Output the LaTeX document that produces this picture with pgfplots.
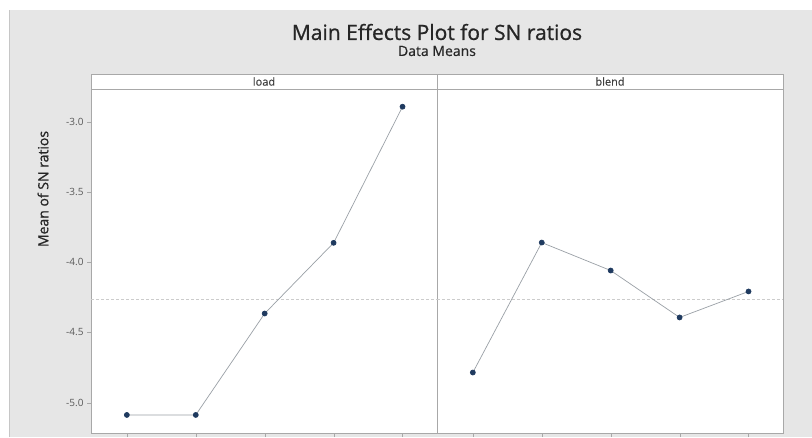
\documentclass[border=0pt]{standalone}
\usepackage{fontspec}
\setmainfont{Open Sans}
\newfontfamily\semib[FakeBold=0.9]{Open Sans}
\newfontfamily\semil[FakeBold=0.4]{Open Sans}
\usepackage{pgfplots}
\pgfplotsset{compat=1.18}
\definecolor{bggray}{HTML}{E6E6E6}
\definecolor{framegray}{HTML}{A8A8A8}
\definecolor{linegray}{HTML}{9AA0A6}
\definecolor{mk}{HTML}{1F3A5F}
\pgfplotsset{
  panel/.style={
    scale only axis, width=346pt, height=344pt,
    xmin=0.48, xmax=5.5, ymin=-5.2155, ymax=-2.767,
    axis background/.style={fill=white},
    axis line style={framegray},
    xtick={1,2,3,4,5}, xticklabels={}, xtick pos=bottom,
    tick align=outside, major tick length=4pt,
    tick style={framegray},
    clip=false,
  },
  series/.style={color=linegray, line width=0.7pt, mark=*, mark size=2.5pt,
    mark options={draw=mk, fill=mk}},
  refline/.style={color=gray!40, densely dashed, line width=0.5pt},
}
\begin{document}
\begin{tikzpicture}[x=1pt,y=1pt]
\useasboundingbox (0pt,0pt) rectangle (812pt,437pt);
\fill[white] (0pt,0pt) rectangle (812pt,437pt);
\fill[bggray] (9pt,0pt) rectangle (812pt,427pt);
\draw[gray!45, line width=1pt] (9pt,0pt) -- (9pt,427pt);
\node[font=\semib\fontsize{21}{24}\selectfont, text=black!85] at (437pt,405pt) {Main Effects Plot for SN ratios};
\node[font=\semil\fontsize{14}{16}\selectfont, text=black!85] at (437pt,386pt) {Data Means};
\begin{axis}[panel, at={(91pt,4pt)}, anchor=south west,
    ytick={-5,-4.5,-4,-3.5,-3}, ytick pos=left,
    /pgf/number format/assume math mode=true,
    yticklabel style={font=\fontsize{10}{11}\selectfont, text=black!65,
      /pgf/number format/fixed, /pgf/number format/fixed zerofill, /pgf/number format/precision=1},
  ]
  \addplot[refline] coordinates {(0.48,-4.26) (5.5,-4.26)};
  \addplot[series] coordinates {(1,-5.087) (2,-5.087) (3,-4.365) (4,-3.862) (5,-2.893)};
\end{axis}
\begin{axis}[panel, at={(437pt,4pt)}, anchor=south west, ytick=\empty]
  \addplot[refline] coordinates {(0.48,-4.26) (5.5,-4.26)};
  \addplot[series] coordinates {(1,-4.785) (2,-3.860) (3,-4.059) (4,-4.393) (5,-4.208)};
\end{axis}
\draw[framegray, fill=white] (91pt,348pt) rectangle (437pt,363pt);
\draw[framegray, fill=white] (437pt,348pt) rectangle (783pt,363pt);
\node[font=\semil\fontsize{11}{12}\selectfont, text=black!75] at (264pt,355.5pt) {load};
\node[font=\semil\fontsize{11}{12}\selectfont, text=black!75] at (610pt,355.5pt) {blend};
\node[rotate=90, font=\semib\fontsize{14}{16}\selectfont, text=black!85] at (43pt,248pt) {Mean of SN ratios};
\end{tikzpicture}
\end{document}
